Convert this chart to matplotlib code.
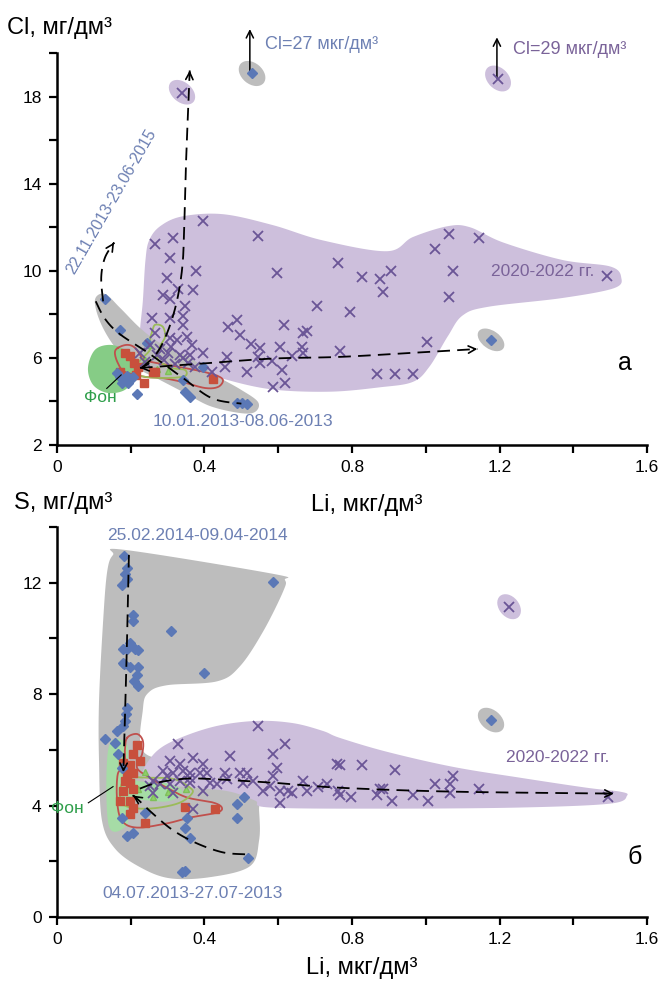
import numpy as np
import matplotlib
matplotlib.use("Agg")
import matplotlib.pyplot as plt
from matplotlib.patches import Polygon, Ellipse
from matplotlib.transforms import ScaledTranslation
from matplotlib.ticker import FixedLocator

plt.rcParams['font.family'] = ['Liberation Sans', 'DejaVu Sans']

# ---------------- Cl vs Li (panel а) ----------------
cl_li_2020 = [0.396, 0.545, 0.315, 0.266, 0.306, 0.377, 0.597, 0.298, 0.369, 0.328, 0.287, 0.306,
              0.347, 0.705, 0.258, 0.306, 0.342, 0.342, 0.488, 0.464, 0.496, 0.616, 0.667, 0.678,
              0.762, 1.063, 1.144, 1.025, 0.827, 0.876, 0.906, 0.884, 1.074, 1.063, 0.795, 1.492,
              1.003, 0.767, 0.868, 0.917, 0.965, 0.266, 0.526, 0.551, 0.605, 0.664, 0.667, 0.396,
              0.461, 0.551, 0.610, 0.545, 0.583, 0.637, 0.515, 0.586, 0.618, 0.420, 0.456, 0.306,
              0.325, 0.353, 0.366, 0.334, 0.342, 0.361, 0.301, 0.252, 0.271, 0.225, 0.374, 0.355,
              0.290, 0.320, 0.280, 0.310, 0.240, 0.339, 1.196]
cl_2020 = [12.3, 11.61, 11.52, 11.24, 10.6, 10.0, 9.91, 9.68, 9.13, 9.17, 8.9, 8.71,
           8.39, 8.39, 7.84, 7.84, 7.93, 7.52, 7.75, 7.43, 7.06, 7.52, 7.15, 7.24,
           10.37, 11.7, 11.52, 11.01, 9.72, 9.63, 10.0, 9.03, 10.0, 8.8, 8.11, 9.77,
           6.74, 6.32, 5.26, 5.26, 5.26, 7.15, 6.64, 6.46, 6.51, 6.51, 6.23, 6.23,
           6.05, 5.77, 5.45, 6.05, 5.86, 6.09, 5.36, 4.67, 4.85, 5.36, 5.59, 6.92,
           6.83, 6.97, 6.6, 6.14, 6.0, 6.14, 6.23, 6.6, 6.14, 6.23, 5.59, 5.77,
           5.9, 5.7, 6.4, 6.5, 5.8, 18.18, 18.83]

cl_li_2013 = [0.13, 0.171, 0.163, 0.171, 0.184, 0.193, 0.176, 0.217, 0.342, 0.347, 0.361, 0.396,
              0.488, 0.502, 0.515, 0.19, 0.206, 0.244, 0.529, 1.177]
cl_2013 = [8.71, 7.29, 5.31, 5.13, 4.99, 4.85, 4.85, 4.34, 4.99, 4.44, 4.21, 5.59,
           3.93, 3.93, 3.89, 5.17, 5.13, 6.69, 19.06, 6.83]

cl_li_red = [0.184, 0.198, 0.209, 0.22, 0.26, 0.236, 0.19, 0.423, 0.266, 0.171, 0.214]
cl_red = [6.23, 6.09, 5.77, 5.59, 5.36, 4.85, 5.13, 5.03, 5.36, 5.36, 5.2]

cl_li_tri = [0.25, 0.24, 0.27, 0.30, 0.22]
cl_tri = [6.6, 5.9, 5.5, 5.4, 5.6]

cl_env_2020 = [(0.24, 10.5), (0.25, 11.4), (0.28, 12.05), (0.34, 12.5), (0.45, 12.6), (0.585, 12.1),
               (0.72, 11.4), (0.895, 10.9), (0.965, 11.55), (1.06, 12.05), (1.12, 12.0), (1.21, 11.3),
               (1.37, 10.5), (1.50, 10.2), (1.53, 9.7), (1.51, 9.2), (1.37, 8.75), (1.17, 8.35),
               (1.10, 7.95), (1.06, 7.0), (1.01, 5.6), (0.965, 4.9), (0.875, 4.65), (0.74, 4.45),
               (0.585, 4.55), (0.46, 5.0), (0.39, 5.45), (0.32, 5.8), (0.25, 6.15), (0.225, 6.8),
               (0.233, 8.65)]
cl_env_2013 = [(0.103, 8.67), (0.13, 8.94), (0.171, 8.3), (0.225, 7.38), (0.279, 6.69), (0.361, 6.0),
               (0.428, 5.22), (0.496, 4.57), (0.545, 3.98), (0.537, 3.52), (0.496, 3.47), (0.415, 3.79),
               (0.347, 4.39), (0.279, 4.99), (0.212, 5.59), (0.157, 6.5), (0.117, 7.66)]
cl_env_bg = [(0.103, 6.37), (0.144, 6.6), (0.184, 6.37), (0.212, 5.82), (0.206, 5.08), (0.184, 4.53),
             (0.138, 4.39), (0.098, 4.76), (0.084, 5.54)]
cl_red_line = [(0.165, 6.46), (0.19, 6.6), (0.212, 6.46), (0.239, 5.91), (0.301, 5.68), (0.374, 5.45),
               (0.428, 5.22), (0.45, 4.99), (0.437, 4.67), (0.401, 4.62), (0.339, 4.9), (0.285, 5.08),
               (0.239, 5.13), (0.184, 5.36), (0.165, 5.77), (0.157, 6.23)]
cl_green_line = [(0.258, 7.2), (0.266, 7.52), (0.287, 7.43), (0.293, 6.97), (0.279, 6.51), (0.274, 5.91),
                 (0.312, 5.54), (0.347, 5.45), (0.347, 5.17), (0.301, 5.08), (0.239, 5.13), (0.212, 5.31),
                 (0.22, 5.77), (0.252, 6.37), (0.252, 6.83)]

cl_trend_2013 = [(0.105, 8.6), (0.13, 7.8), (0.17, 7.1), (0.25, 6.2), (0.34, 5.1), (0.42, 4.15), (0.5, 3.9)]
cl_trend_up = [(0.23, 5.55), (0.27, 6.2), (0.30, 7.2), (0.325, 8.6), (0.34, 10.2), (0.345, 12.0),
               (0.35, 15.0), (0.36, 19.2)]
cl_trend_right = [(0.225, 5.54), (0.40, 5.75), (0.585, 5.97), (0.77, 6.05), (0.98, 6.25), (1.14, 6.41)]
cl_trend_loop = [(0.125, 8.6), (0.12, 9.7), (0.13, 10.6), (0.155, 11.3)]

# ---------------- S vs Li (panel б) ----------------
s_li_2020 = [0.545, 0.328, 0.618, 0.469, 0.586, 0.306, 0.334, 0.369, 0.396, 0.597, 0.287, 0.315,
             0.342, 0.361, 0.388, 0.407, 0.456, 0.496, 0.515, 0.586, 0.532, 0.559, 0.578, 0.605,
             0.626, 0.667, 0.678, 0.605, 0.369, 0.26, 0.279, 0.252, 0.306, 0.334, 0.361, 0.396,
             0.434, 0.732, 0.759, 0.762, 0.26, 0.315, 0.415, 0.461, 0.504, 0.361, 0.298, 0.637,
             0.708, 0.767, 0.827, 0.917, 0.767, 0.797, 0.868, 0.876, 0.884, 0.908, 0.965, 1.006,
             1.025, 1.066, 1.066, 1.074, 1.144, 1.494, 1.226]
s_2020 = [6.86, 6.21, 6.21, 5.79, 5.86, 5.61, 5.5, 5.71, 5.5, 5.36, 5.25, 5.18,
          5.25, 5.18, 5.18, 5.18, 5.18, 5.18, 5.18, 5.07, 4.89, 4.54, 4.71, 4.54,
          4.54, 4.89, 4.54, 4.11, 3.89, 4.89, 4.79, 4.71, 4.79, 4.89, 4.82, 4.54,
          4.79, 4.79, 5.5, 4.54, 4.46, 4.46, 4.82, 4.96, 4.82, 5.0, 5.07, 4.46,
          4.68, 5.46, 5.46, 5.29, 4.39, 4.29, 4.39, 4.61, 4.61, 4.18, 4.39, 4.18,
          4.79, 4.79, 4.46, 5.07, 4.61, 4.29, 11.14]

s_li_2013 = [0.182, 0.19, 0.184, 0.19, 0.176, 0.206, 0.206, 0.309, 0.586, 0.399, 0.179, 0.19,
             0.212, 0.22, 0.198, 0.179, 0.198, 0.22, 0.217, 0.209, 0.22, 0.19, 0.187, 0.184,
             0.179, 0.163, 0.13, 0.157, 0.165, 0.176, 0.176, 0.19, 0.206, 0.239, 0.353, 0.347,
             0.361, 0.488, 0.507, 0.488, 0.518, 0.339, 0.347, 0.182, 1.177]
s_2013 = [12.96, 12.54, 12.32, 12.14, 11.93, 10.86, 10.64, 10.25, 12.04, 8.75, 9.61, 9.61,
          9.61, 9.57, 9.82, 9.11, 8.96, 8.96, 8.68, 8.46, 8.29, 7.5, 7.29, 7.04,
          6.86, 6.68, 6.39, 6.25, 5.86, 5.36, 3.54, 2.89, 3.0, 3.75, 3.54, 3.18,
          2.82, 4.07, 4.29, 3.57, 2.11, 1.61, 1.64, 9.07, 7.07]

s_li_red = [0.217, 0.206, 0.179, 0.198, 0.19, 0.206, 0.198, 0.206, 0.179, 0.171, 0.198, 0.206,
            0.239, 0.198, 0.347, 0.428, 0.184, 0.225]
s_red = [6.18, 5.86, 5.54, 5.46, 5.14, 5.18, 4.82, 4.61, 4.54, 4.18, 4.18, 3.93,
         3.39, 3.71, 3.96, 3.89, 4.89, 5.6]

s_li_tri = [0.20, 0.22, 0.24, 0.30, 0.35, 0.26]
s_tri = [4.9, 4.6, 5.2, 4.5, 4.6, 4.3]

s_env_2013 = [(0.152, 13.0), (0.184, 13.18), (0.586, 12.32), (0.618, 12.1), (0.613, 11.68), (0.559, 10.25),
              (0.496, 9.0), (0.434, 8.46), (0.298, 8.32), (0.247, 8.04), (0.233, 7.46), (0.233, 5.96),
              (0.334, 5.6), (0.537, 5.25), (0.548, 3.82), (0.548, 2.75), (0.523, 1.82), (0.415, 1.43),
              (0.306, 1.39), (0.225, 1.79), (0.157, 2.46), (0.122, 3.46), (0.114, 5.6), (0.114, 7.75),
              (0.125, 10.6), (0.136, 12.39)]
s_env_2020 = [(0.233, 5.25), (0.271, 5.96), (0.334, 6.43), (0.434, 6.86), (0.542, 7.04), (0.64, 6.96),
              (0.721, 6.68), (0.767, 6.43), (0.895, 5.93), (1.074, 5.39), (1.256, 5.0), (1.437, 4.64),
              (1.527, 4.5), (1.546, 4.36), (1.50, 4.07), (1.256, 3.93), (0.895, 3.89), (0.578, 3.93),
              (0.537, 4.18), (0.469, 4.5), (0.374, 4.64), (0.279, 4.75), (0.239, 4.89)]
s_env_bg = [(0.14, 6.1), (0.19, 6.2), (0.20, 5.0), (0.30, 4.8), (0.34, 4.5), (0.30, 4.15),
            (0.20, 4.15), (0.19, 3.3), (0.14, 3.3)]
s_red_line = [(0.19, 6.43), (0.217, 6.57), (0.233, 6.32), (0.231, 5.86), (0.217, 5.36), (0.252, 5.0),
              (0.298, 4.64), (0.353, 4.29), (0.423, 4.11), (0.447, 3.93), (0.434, 3.75), (0.361, 3.57),
              (0.298, 3.36), (0.217, 3.21), (0.176, 3.46), (0.163, 4.18), (0.165, 5.14), (0.184, 5.36),
              (0.184, 5.96)]
s_green_line = [(0.198, 5.0), (0.244, 5.0), (0.315, 4.96), (0.361, 4.64), (0.366, 4.43), (0.334, 4.11),
                (0.279, 3.93), (0.225, 3.89), (0.184, 4.0), (0.171, 4.29), (0.176, 4.79)]

s_trend_down = [(0.195, 13.0), (0.19, 10.0), (0.185, 7.5), (0.18, 5.2)]
s_trend_right = [(0.225, 4.61), (0.271, 4.82), (0.342, 4.96), (0.407, 4.96), (0.586, 4.82),
                 (0.767, 4.64), (1.074, 4.5), (1.51, 4.43)]
s_trend_back = [(0.51, 2.25), (0.45, 2.32), (0.38, 2.64), (0.315, 3.11), (0.26, 3.71), (0.217, 4.25),
                (0.206, 4.36)]

# ---------------- styling ----------------
GREY = '#bdbdbd'
LILAC = '#cdbfdc'
GREEN_BG_A = '#86cc86'
GREEN_BG_B = '#a6dca6'
X_COL = '#6a5596'
DIA_COL = '#5b78b6'
RED = '#c8503c'
RED_LINE = '#c0504d'
OLIVE = '#9bbb59'
TXT_BLUE = '#6d80b3'
TXT_LILAC = '#7a6399'
TXT_GREEN = '#2e9e4a'
NOTE_FS = 12.5


def spline(pts, closed=True, n=16):
    P = np.asarray(pts, float)
    if closed:
        P = np.vstack([P[-1], P, P[0], P[1]])
    else:
        P = np.vstack([P[0], P, P[-1]])
    t = np.linspace(0, 1, n, endpoint=False)[:, None]
    out = []
    for i in range(1, len(P) - 2):
        p0, p1, p2, p3 = P[i - 1], P[i], P[i + 1], P[i + 2]
        out.append(0.5 * (2 * p1 + (-p0 + p2) * t + (2 * p0 - 5 * p1 + 4 * p2 - p3) * t ** 2
                          + (-p0 + 3 * p1 - 3 * p2 + p3) * t ** 3))
    if not closed:
        out.append(P[-2][None, :])
    return np.vstack(out)


def region(ax, pts, color, z, alpha=1.0):
    ax.add_patch(Polygon(spline(pts), closed=True, facecolor=color, edgecolor='none',
                         zorder=z, alpha=alpha))


def contour(ax, pts, color, z=5):
    c = spline(pts)
    c = np.vstack([c, c[:1]])
    ax.plot(c[:, 0], c[:, 1], color=color, lw=1.3, zorder=z)


def trend(ax, pts, head_end=True, head_start=False):
    c = spline(pts, closed=False, n=20)
    ax.plot(c[:, 0], c[:, 1], color='k', lw=1.3, ls=(0, (7, 4)), zorder=8, clip_on=False)
    props = dict(arrowstyle='->', lw=1.2, color='k', shrinkA=0, shrinkB=0, mutation_scale=13)
    if head_end:
        ax.annotate('', xy=c[-1], xytext=c[-3], arrowprops=props, zorder=9)
    if head_start:
        ax.annotate('', xy=c[0], xytext=c[2], arrowprops=props, zorder=9)


def blob(ax, x, y, w, h, ang, color):
    tr = ax.figure.dpi_scale_trans + ScaledTranslation(x, y, ax.transData)
    ax.add_patch(Ellipse((0, 0), w, h, angle=ang, transform=tr, facecolor=color,
                         edgecolor='none', zorder=2))


def points(ax, xs, ys, red_x, red_y, tri_x, tri_y, x13, y13):
    ax.plot(tri_x, tri_y, ls='none', marker='^', ms=5, color='#8fd16a', mec='#7fbf5a', zorder=6)
    ax.plot(red_x, red_y, ls='none', marker='s', ms=5.5, color=RED, mec=RED, zorder=6)
    ax.plot(x13, y13, ls='none', marker='D', ms=5, color=DIA_COL, mec=DIA_COL, zorder=6)
    ax.plot(xs, ys, ls='none', marker='x', ms=6.5, mew=1.3, color=X_COL, zorder=7)


def style_axes(ax, ylim, ymajor, yminor):
    ax.set_xlim(0, 1.6)
    ax.set_ylim(*ylim)
    for s in ('top', 'right'):
        ax.spines[s].set_visible(False)
    for s in ('left', 'bottom'):
        ax.spines[s].set_linewidth(1.8)
    ax.xaxis.set_major_locator(FixedLocator([0, 0.4, 0.8, 1.2, 1.6]))
    ax.xaxis.set_minor_locator(FixedLocator([0.2, 0.6, 1.0, 1.4]))
    ax.yaxis.set_major_locator(FixedLocator(ymajor))
    ax.yaxis.set_minor_locator(FixedLocator(yminor))
    ax.set_xticklabels(['0', '0.4', '0.8', '1.2', '1.6'])
    ax.tick_params(which='both', direction='out', length=6, width=1.6, labelsize=12.5, pad=5)
    ax.patch.set_alpha(0)


fig = plt.figure(figsize=(6.58, 9.82), dpi=100)
ax1 = fig.add_axes([0.0866, 0.5468, 0.8967, 0.3992])
ax2 = fig.add_axes([0.0866, 0.0662, 0.8967, 0.3971])

# ---- panel а ----
style_axes(ax1, (2, 20), [2, 6, 10, 14, 18], [4, 8, 12, 16, 20])
region(ax1, cl_env_2020, LILAC, 1)
region(ax1, cl_env_2013, GREY, 2)
region(ax1, cl_env_bg, GREEN_BG_A, 3)
blob(ax1, 0.339, 18.2, 0.30, 0.2, -40, LILAC)
blob(ax1, 1.196, 18.83, 0.30, 0.21, -45, LILAC)
blob(ax1, 0.529, 19.06, 0.30, 0.21, -40, GREY)
blob(ax1, 1.177, 6.83, 0.30, 0.18, -35, GREY)
contour(ax1, cl_red_line, RED_LINE)
contour(ax1, cl_green_line, OLIVE)
points(ax1, cl_li_2020, cl_2020, cl_li_red, cl_red, cl_li_tri, cl_tri, cl_li_2013, cl_2013)
trend(ax1, cl_trend_2013, head_end=False)
trend(ax1, cl_trend_up)
trend(ax1, cl_trend_right, head_start=True)
trend(ax1, cl_trend_loop)
arrow_props = dict(arrowstyle='->', lw=1.1, color='k', shrinkA=0, shrinkB=0, mutation_scale=13)
ax1.annotate('', xy=(0.523, 21.1), xytext=(0.523, 19.1), arrowprops=arrow_props,
             annotation_clip=False)
ax1.annotate('', xy=(1.193, 20.72), xytext=(1.193, 18.85), arrowprops=arrow_props,
             annotation_clip=False)
ax1.text(0.564, 20.39, 'Cl=27 мкг/дм³', color=TXT_BLUE, fontsize=13, va='center', ha='left')
ax1.text(1.237, 20.16, 'Cl=29 мкг/дм³', color=TXT_LILAC, fontsize=13, va='center', ha='left')
ax1.text(0.149, 13.17, '22.11.2013-23.06-2015', color=TXT_BLUE, fontsize=11.5, rotation=60,
         ha='center', va='center', rotation_mode='anchor')
ax1.text(0.504, 3.06, '10.01.2013-08.06-2013', color=TXT_BLUE, fontsize=NOTE_FS, ha='center', va='center')
ax1.text(1.318, 9.95, '2020-2022 гг.', color=TXT_LILAC, fontsize=NOTE_FS, ha='center', va='center')
ax1.text(0.117, 4.2, 'Фон', color=TXT_GREEN, fontsize=NOTE_FS, ha='center', va='center')
ax1.plot([0.135, 0.174], [4.6, 5.22], color='k', lw=0.8, zorder=9)
ax1.text(1.54, 5.77, 'а', color='k', fontsize=18, ha='center', va='center')

# ---- panel б ----
style_axes(ax2, (0, 14), [0, 4, 8, 12], [2, 6, 10, 14])
region(ax2, s_env_2013, GREY, 1)
region(ax2, s_env_2020, LILAC, 2)
region(ax2, s_env_bg, GREEN_BG_B, 3)
blob(ax2, 1.226, 11.14, 0.28, 0.2, -50, LILAC)
blob(ax2, 1.177, 7.07, 0.30, 0.2, -40, GREY)
contour(ax2, s_red_line, RED_LINE)
contour(ax2, s_green_line, OLIVE)
points(ax2, s_li_2020, s_2020, s_li_red, s_red, s_li_tri, s_tri, s_li_2013, s_2013)
trend(ax2, s_trend_down)
trend(ax2, s_trend_right)
trend(ax2, s_trend_back)
ax2.text(0.38, 13.68, '25.02.2014-09.04-2014', color=TXT_BLUE, fontsize=NOTE_FS, ha='center', va='center')
ax2.text(0.369, 0.86, '04.07.2013-27.07-2013', color=TXT_BLUE, fontsize=NOTE_FS, ha='center', va='center')
ax2.text(1.359, 5.71, '2020-2022 гг.', color=TXT_LILAC, fontsize=NOTE_FS, ha='center', va='center')
ax2.text(0.027, 3.89, 'Фон', color=TXT_GREEN, fontsize=NOTE_FS, ha='center', va='center')
ax2.plot([0.085, 0.152], [4.1, 4.68], color='k', lw=0.8, zorder=9, clip_on=False)
ax2.text(1.567, 2.14, 'б', color='k', fontsize=18, ha='center', va='center')

# axis titles
fig.text(7 / 658, 1 - 28 / 982, 'Cl, мг/дм³', fontsize=17, ha='left', va='center')
fig.text(14 / 658, 1 - 503 / 982, 'S, мг/дм³', fontsize=17, ha='left', va='center')
fig.text(367 / 658, 1 - 505 / 982, 'Li, мкг/дм³', fontsize=17, ha='center', va='center')
fig.text(362 / 658, 1 - 968 / 982, 'Li, мкг/дм³', fontsize=17, ha='center', va='center')

fig.savefig('out.png', dpi=100)
